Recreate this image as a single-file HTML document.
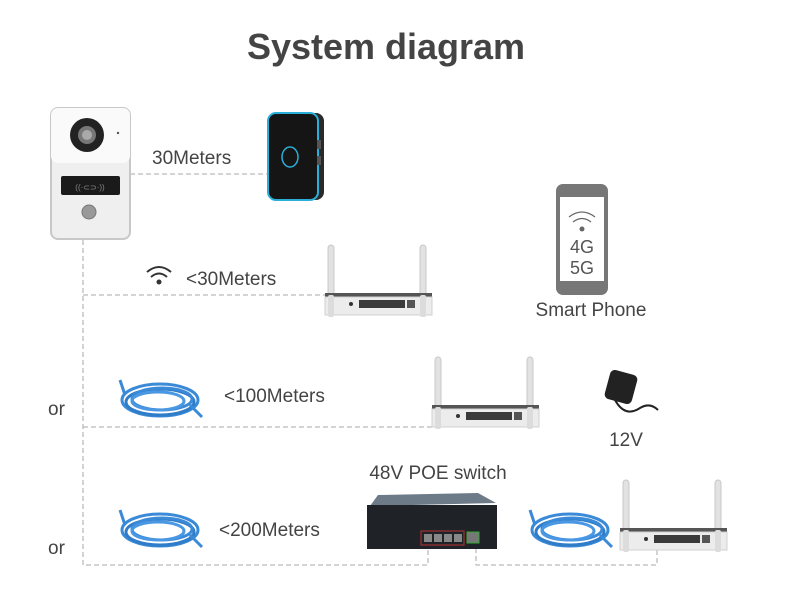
<!DOCTYPE html>
<html><head><style>
body{margin:0;background:#fff;}
svg{display:block;font-family:"Liberation Sans",sans-serif;}
</style></head><body>
<svg width="800" height="600" viewBox="0 0 800 600">
<defs>
<g id="router">
  <rect x="3" y="0" width="6" height="52" rx="3" fill="#e2e2e2" stroke="#c8c8c8"/>
  <rect x="95" y="0" width="6" height="52" rx="3" fill="#e2e2e2" stroke="#c8c8c8"/>
  <rect x="0" y="48" width="107" height="4" fill="#555"/>
  <rect x="0" y="52" width="107" height="18" fill="#ececec" stroke="#d0d0d0"/>
  <rect x="3" y="50" width="6" height="22" rx="2" fill="#dcdcdc"/>
  <rect x="95" y="50" width="6" height="22" rx="2" fill="#dcdcdc"/>
  <circle cx="26" cy="59" r="2" fill="#333"/>
  <rect x="34" y="55" width="46" height="8" fill="#3a3a3a"/>
  <rect x="82" y="55" width="8" height="8" fill="#555"/>
</g>
<g id="cable" fill="none" stroke="#3a8ad8" stroke-width="3">
  <ellipse cx="40" cy="25" rx="38" ry="16"/>
  <ellipse cx="40" cy="27" rx="34" ry="13" stroke="#2f7cc8"/>
  <ellipse cx="42" cy="24" rx="30" ry="11"/>
  <ellipse cx="38" cy="26" rx="26" ry="9" stroke="#4a98e4"/>
  <path d="M5 20 L0 5" /><path d="M70 30 L82 42"/>
</g>
</defs>

<text x="386" y="59" font-size="36" font-weight="bold" fill="#444" text-anchor="middle">System diagram</text>

<g fill="none" stroke="#aaa" stroke-width="1" stroke-dasharray="5,3">
  <path d="M130 174 H268"/>
  <path d="M83 240 V565 H428 V548"/>
  <path d="M83 295 H330"/>
  <path d="M83 427 H440"/>
  <path d="M476 548 V565 H657 V548"/>
</g>

<!-- doorbell -->
<rect x="51" y="108" width="79" height="131" rx="7" fill="#efefef" stroke="#c8c8c8" stroke-width="2"/>
<rect x="51" y="108" width="79" height="55" rx="7" fill="#fafafa"/>
<circle cx="87" cy="135" r="17" fill="#222"/>
<circle cx="87" cy="135" r="9" fill="#777"/>
<circle cx="87" cy="135" r="5" fill="#aaa"/>
<circle cx="118" cy="133" r="1.2" fill="#555"/>
<rect x="61" y="176" width="59" height="19" rx="2" fill="#1a1a1a"/>
<text x="90" y="190" font-size="8" fill="#888" text-anchor="middle">((·⊂⊃·))</text>
<circle cx="89" cy="212" r="7" fill="#999" stroke="#777"/>

<!-- receiver -->
<rect x="268" y="113" width="56" height="87" rx="8" fill="#2a2a2a"/>
<rect x="268" y="113" width="50" height="87" rx="8" fill="#151515" stroke="#2ab0d8" stroke-width="2"/>
<ellipse cx="290" cy="157" rx="8" ry="10" fill="none" stroke="#2ab0d8" stroke-width="1.5"/>
<rect x="317" y="140" width="4" height="9" fill="#555"/>
<rect x="317" y="156" width="4" height="9" fill="#555"/>

<text x="152" y="164" font-size="19" fill="#444">30Meters</text>

<!-- wifi -->
<g fill="none" stroke="#333" stroke-width="2">
  <path d="M147 272 Q159 262 171 272"/><path d="M151 277 Q159 270 167 277"/>
</g>
<circle cx="159" cy="282" r="2.5" fill="#333"/>
<text x="186" y="285" font-size="19" fill="#444">&lt;30Meters</text>

<use href="#router" x="325" y="245"/>
<use href="#router" x="432" y="357"/>
<use href="#router" x="620" y="480"/>

<!-- phone -->
<rect x="556" y="184" width="52" height="111" rx="7" fill="#777"/>
<rect x="560" y="197" width="44" height="84" fill="#fff"/>
<g fill="none" stroke="#666" stroke-width="1.2">
  <path d="M569 217 Q582 207 595 217"/><path d="M573 222 Q582 215 591 222"/>
</g>
<circle cx="582" cy="229" r="2.5" fill="#666"/>
<text x="582" y="253" font-size="18" fill="#555" text-anchor="middle">4G</text>
<text x="582" y="274" font-size="18" fill="#555" text-anchor="middle">5G</text>
<text x="591" y="316" font-size="19" fill="#444" text-anchor="middle">Smart Phone</text>

<!-- adapter -->
<rect x="607" y="372" width="28" height="30" rx="5" fill="#222" transform="rotate(15 621 387)"/>
<path d="M615 400 Q625 418 640 408 Q650 402 658 410" fill="none" stroke="#222" stroke-width="2"/>
<text x="626" y="446" font-size="19" fill="#444" text-anchor="middle">12V</text>

<text x="48" y="415" font-size="19" fill="#444">or</text>
<text x="48" y="554" font-size="19" fill="#444">or</text>

<use href="#cable" x="120" y="375"/>
<use href="#cable" x="120" y="505"/>
<use href="#cable" x="530" y="505"/>

<text x="224" y="402" font-size="19" fill="#444">&lt;100Meters</text>
<text x="219" y="536" font-size="19" fill="#444">&lt;200Meters</text>
<text x="438" y="479" font-size="19" fill="#444" text-anchor="middle">48V POE switch</text>

<!-- switch -->
<polygon points="378,495 478,493 496,503 370,506" fill="#6d7a88"/>
<rect x="367" y="505" width="130" height="44" fill="#1f2327"/>
<rect x="421" y="531" width="43" height="14" fill="none" stroke="#b33" stroke-width="1"/>
<rect x="424" y="534" width="8" height="8" fill="#888"/><rect x="434" y="534" width="8" height="8" fill="#888"/>
<rect x="444" y="534" width="8" height="8" fill="#888"/><rect x="454" y="534" width="8" height="8" fill="#888"/>
<rect x="467" y="532" width="12" height="11" fill="#777" stroke="#3a3"/>
</svg>
</body></html>
